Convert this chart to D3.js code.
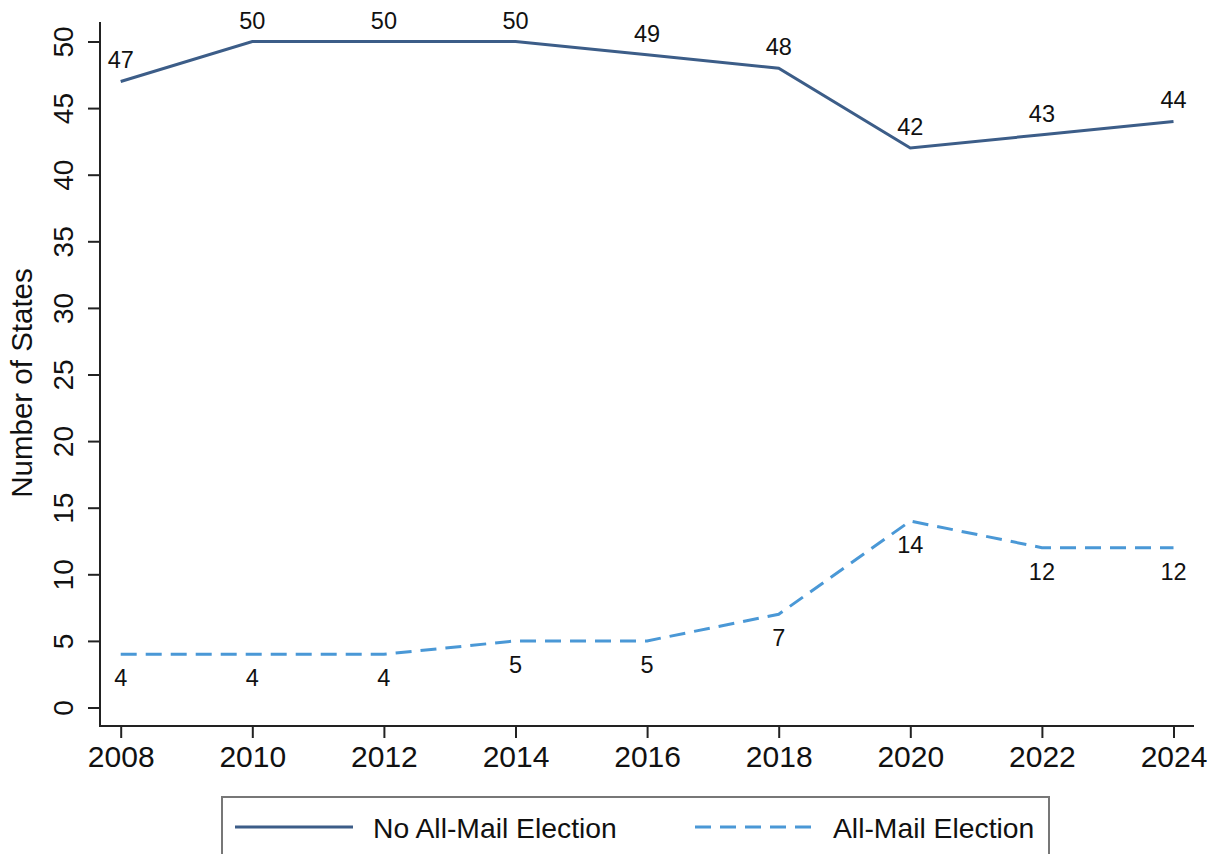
<!DOCTYPE html>
<html>
<head>
<meta charset="utf-8">
<script src="https://cdn.jsdelivr.net/npm/d3@7"></script>
<style>
  body { margin: 0; background: #fff; }
  svg { display: block; font-family: "Liberation Sans", Arial, sans-serif; }
</style>
</head>
<body>
<svg id="chart" width="1215" height="854"></svg>
<script>
const years = [2008, 2010, 2012, 2014, 2016, 2018, 2020, 2022, 2024];
const noAllMail = [47, 50, 50, 50, 49, 48, 42, 43, 44];
const allMail = [4, 4, 4, 5, 5, 7, 14, 12, 12];
const yTicks = [0, 5, 10, 15, 20, 25, 30, 35, 40, 45, 50];
const xTicks = [2008, 2010, 2012, 2014, 2016, 2018, 2020, 2022, 2024];
const seriesNames = ["No All-Mail Election", "All-Mail Election"];
const yTitle = "Number of States";

const svg = d3.select("#chart");
const x = d3.scaleLinear().domain([2008, 2024]).range([120.7, 1173.5]);
const y = d3.scaleLinear().domain([0, 50]).range([707.5, 41.5]);

const axisX0 = 100, axisY0 = 726;
const solidColor = "#3c5d88", dashColor = "#4a98d6";
const ff = "'Liberation Sans', Arial, sans-serif";

// axis lines
svg.append("line").attr("x1", axisX0).attr("x2", axisX0).attr("y1", 22).attr("y2", axisY0 + 1)
  .attr("stroke", "#222").attr("stroke-width", 2);
svg.append("line").attr("x1", axisX0 - 1).attr("x2", 1194).attr("y1", axisY0).attr("y2", axisY0)
  .attr("stroke", "#222").attr("stroke-width", 2);

// y axis
const gy = svg.append("g").attr("transform", `translate(${axisX0},0)`)
  .call(d3.axisLeft(y).tickValues(yTicks).tickSize(12).tickSizeOuter(0));
gy.select(".domain").remove();
gy.selectAll(".tick line").attr("stroke", "#222").attr("stroke-width", 2);
gy.selectAll(".tick text")
  .attr("transform", "rotate(-90)")
  .attr("x", 0).attr("y", -27).attr("dy", 0)
  .attr("text-anchor", "middle")
  .attr("font-size", 28).attr("fill", "#111")
  .style("font-family", ff);

// x axis
const gx = svg.append("g").attr("transform", `translate(0,${axisY0})`)
  .call(d3.axisBottom(x).tickValues(xTicks).tickFormat(d3.format("d")).tickSize(12).tickSizeOuter(0));
gx.select(".domain").remove();
gx.selectAll(".tick line").attr("stroke", "#222").attr("stroke-width", 2);
gx.selectAll(".tick text")
  .attr("y", 41).attr("dy", 0)
  .attr("font-size", 30).attr("fill", "#111")
  .style("font-family", ff);

// y title
svg.append("text")
  .attr("transform", "translate(32,383) rotate(-90)")
  .attr("text-anchor", "middle")
  .attr("font-size", 29.5).attr("fill", "#111")
  .text(yTitle);

const line = d3.line().x(d => x(d[0])).y(d => y(d[1]));

const solidData = years.map((yr, i) => [yr, noAllMail[i]]);
const dashData = years.map((yr, i) => [yr, allMail[i]]);

svg.append("path").datum(solidData).attr("d", line)
  .attr("fill", "none").attr("stroke", solidColor).attr("stroke-width", 3);
svg.append("path").datum(dashData).attr("d", line)
  .attr("fill", "none").attr("stroke", dashColor).attr("stroke-width", 3)
  .attr("stroke-dasharray", "16,9");

// labels
svg.selectAll(".lblS").data(solidData).enter().append("text")
  .attr("x", d => x(d[0])).attr("y", d => y(d[1]) - 13)
  .attr("text-anchor", "middle").attr("font-size", 23.5).attr("fill", "#111")
  .text(d => d[1]);
svg.selectAll(".lblD").data(dashData).enter().append("text")
  .attr("x", d => x(d[0])).attr("y", d => y(d[1]) + 32)
  .attr("text-anchor", "middle").attr("font-size", 23.5).attr("fill", "#111")
  .text(d => d[1]);

// legend
svg.append("rect").attr("x", 222).attr("y", 797).attr("width", 827).attr("height", 70)
  .attr("fill", "#fff").attr("stroke", "#777").attr("stroke-width", 2);
svg.append("line").attr("x1", 235).attr("x2", 353).attr("y1", 827).attr("y2", 827)
  .attr("stroke", solidColor).attr("stroke-width", 3);
svg.append("text").attr("x", 373).attr("y", 838).attr("font-size", 28.3).attr("fill", "#111")
  .text(seriesNames[0]);
svg.append("line").attr("x1", 695).attr("x2", 813).attr("y1", 827).attr("y2", 827)
  .attr("stroke", dashColor).attr("stroke-width", 3).attr("stroke-dasharray", "16,9");
svg.append("text").attr("x", 833).attr("y", 838).attr("font-size", 28.3).attr("fill", "#111")
  .text(seriesNames[1]);
</script>
</body>
</html>
